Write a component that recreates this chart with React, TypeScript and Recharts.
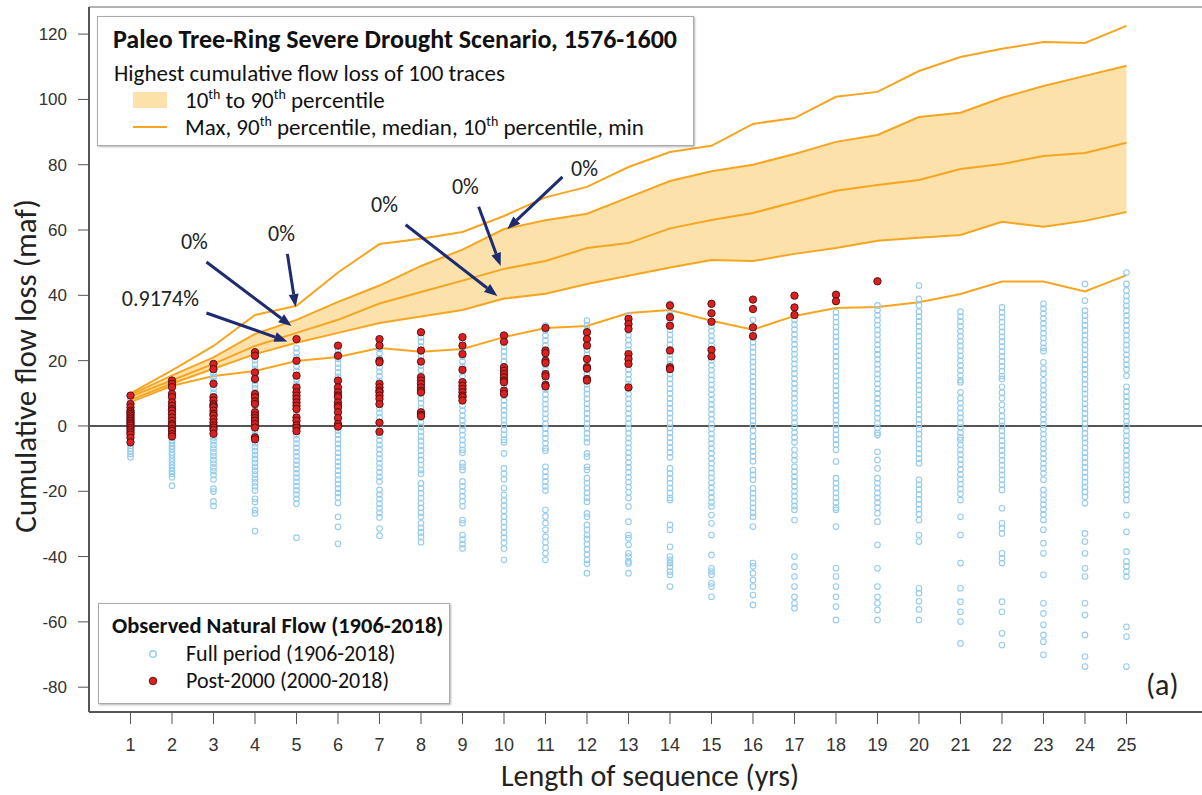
import React from "react";
import {
  ComposedChart,
  Area,
  Line,
  Scatter,
  XAxis,
  YAxis,
  ReferenceLine,
  ReferenceDot,
} from "recharts";

// sequence lengths (yrs)
const years = [1, 2, 3, 4, 5, 6, 7, 8, 9, 10, 11, 12, 13, 14, 15, 16, 17, 18, 19, 20, 21, 22, 23, 24, 25];
const yTicks = [-80, -60, -40, -20, 0, 20, 40, 60, 80, 100, 120];

// paleo scenario, highest cumulative flow loss of 100 traces (maf)
const maxLoss = [10, 17, 24.5, 34, 36.8, 47, 55.7, 57.3, 59.4, 64.3, 70, 73.2, 79.3, 83.9, 85.8, 92.5, 94.3, 100.8, 102.3, 108.7, 113, 115.5, 117.6, 117.3, 122.5];
const p90Loss = [9.5, 15.5, 21, 28.2, 32.5, 38, 43, 49, 54, 60.3, 63, 65, 70, 75, 78, 80, 83.3, 87, 89.1, 94.6, 95.9, 100.5, 104.1, 107.2, 110.3];
const medianLoss = [9, 14, 19, 24.5, 28.5, 32.5, 37.5, 41, 44.5, 48.1, 50.5, 54.5, 56, 60.5, 63.1, 65.2, 68.6, 72, 73.8, 75.3, 78.7, 80.2, 82.7, 83.6, 86.7];
const p10Loss = [8, 13, 17.5, 22, 25.5, 28.5, 31.5, 33.5, 35.5, 39, 40.5, 43.5, 46, 48.5, 50.8, 50.5, 52.7, 54.5, 56.7, 57.6, 58.5, 62.5, 61, 62.8, 65.5];
const minLoss = [7.3, 12.3, 15.3, 16.8, 19.9, 21.1, 23.9, 22.7, 23.6, 27.2, 30, 30.6, 34.6, 35.5, 32.2, 29.5, 33.7, 36.1, 36.4, 37.9, 40.4, 44.2, 44.2, 41.2, 46.2];

// observed natural flow 1906-2018, one list per sequence length
const fullPeriod = [
  [9.3, 8.1, 7.0, 6.2, 5.5, 4.9, 4.2, 3.6, 3.0, 2.3, 1.7, 1.0, 0.4, -0.3, -0.9, -1.6, -2.3, -3.0, -3.7, -4.5, -5.3, -6.1, -6.9, -7.7, -8.6, -9.6],
  [13.9, 12.8, 11.7, 10.8, 9.8, 8.9, 7.9, 7.0, 6.1, 5.1, 4.2, 3.3, 2.3, 1.4, 0.5, -0.5, -1.4, -2.4, -3.3, -4.3, -5.2, -6.2, -7.1, -8.1, -9.0, -10.0, -10.9, -11.9, -12.8, -13.8, -14.7, -15.7, -18.3],
  [19.0, 17.6, 16.2, 15.0, 13.8, 12.6, 11.4, 10.2, 9.0, 7.9, 6.8, 5.6, 4.5, 3.3, 2.2, 1.1, 0.0, -1.2, -2.3, -3.5, -4.6, -5.8, -6.9, -8.1, -9.2, -10.4, -11.5, -12.7, -13.8, -15.0, -16.4, -19.2, -20.1, -23.1, -24.5],
  [22.6, 21.4, 20.1, 18.8, 17.5, 16.3, 15.1, 13.9, 12.7, 11.5, 10.3, 9.1, 7.9, 6.7, 5.5, 4.3, 3.1, 1.9, 0.7, -0.5, -1.7, -2.9, -4.1, -5.3, -6.5, -7.7, -8.9, -10.1, -11.3, -12.5, -13.7, -14.9, -16.1, -17.3, -18.5, -19.8, -22.3, -23.3, -25.8, -26.8, -32.2],
  [26.6, 23.8, 22.5, 21.0, 19.6, 18.2, 16.9, 15.5, 14.2, 12.8, 11.5, 10.2, 8.9, 7.6, 6.3, 5.0, 3.7, 2.4, 1.1, -0.2, -1.5, -2.8, -4.1, -5.4, -6.7, -8.0, -9.3, -10.6, -11.9, -13.2, -14.5, -15.8, -17.1, -18.4, -19.7, -21.0, -22.3, -23.8, -34.2],
  [24.6, 23.3, 21.9, 20.5, 19.1, 17.8, 16.4, 15.0, 13.7, 12.3, 10.9, 9.6, 8.2, 6.8, 5.5, 4.1, 2.7, 1.4, 0.0, -1.4, -2.7, -4.1, -5.5, -6.8, -8.2, -9.6, -11.0, -12.3, -13.7, -15.1, -16.4, -17.8, -19.2, -20.5, -21.9, -23.6, -27.8, -30.9, -36.1],
  [26.6, 25.0, 23.6, 22.2, 20.8, 19.4, 18.0, 16.6, 15.2, 13.8, 12.4, 11.0, 9.6, 8.2, 6.8, 5.4, 4.0, 2.6, 1.2, -0.2, -1.6, -3.0, -4.4, -5.8, -7.2, -8.6, -10.0, -11.4, -12.8, -14.2, -15.6, -17.0, -19.6, -21.0, -22.4, -23.8, -25.2, -26.6, -28.0, -31.4, -33.6],
  [28.7, 27.2, 25.8, 24.3, 22.9, 21.4, 20.0, 18.5, 17.1, 15.6, 14.2, 12.8, 11.3, 9.9, 8.4, 7.0, 5.5, 4.1, 2.6, 1.2, -0.3, -1.7, -3.2, -4.6, -6.1, -7.5, -9.0, -10.4, -11.9, -13.5, -14.6, -17.6, -19.1, -20.6, -22.1, -23.6, -25.1, -26.6, -27.8, -29.8, -31.2, -32.6, -34.0, -35.6],
  [27.2, 25.7, 24.2, 22.7, 21.2, 19.7, 18.2, 16.7, 15.2, 13.7, 12.2, 10.7, 9.2, 7.7, 6.2, 4.7, 3.2, 1.7, 0.2, -1.3, -2.8, -4.3, -5.8, -7.3, -8.2, -11.4, -12.5, -13.5, -17.0, -18.5, -20.0, -21.5, -23.0, -24.6, -28.8, -29.8, -33.4, -34.8, -36.2, -37.5],
  [27.7, 25.8, 24.3, 22.8, 21.3, 19.8, 18.3, 16.8, 15.3, 13.8, 12.3, 10.8, 9.3, 7.8, 6.3, 4.8, 3.3, 1.8, 0.3, -1.2, -2.7, -4.2, -5.0, -8.4, -13.0, -14.6, -16.3, -19.0, -21.1, -22.8, -24.4, -26.0, -27.8, -29.4, -31.0, -32.6, -34.2, -35.8, -37.5, -41.0],
  [30.7, 29.2, 27.7, 26.2, 24.7, 23.2, 21.7, 20.2, 18.7, 17.2, 15.7, 14.2, 12.7, 11.2, 9.7, 8.2, 6.7, 5.2, 3.7, 2.2, 0.7, -0.8, -2.3, -3.8, -5.3, -6.8, -7.6, -12.5, -14.0, -15.5, -17.0, -18.5, -19.8, -25.7, -27.7, -29.7, -31.8, -33.9, -35.6, -37.3, -39.0, -41.0],
  [32.3, 30.8, 29.3, 27.8, 26.3, 24.8, 23.3, 21.8, 20.3, 18.8, 17.3, 15.8, 14.3, 12.8, 11.3, 9.8, 8.3, 6.8, 5.3, 3.8, 2.3, 0.8, -0.7, -2.2, -3.7, -5.0, -8.4, -9.4, -12.5, -13.5, -16.0, -17.5, -19.0, -20.5, -22.0, -23.2, -26.8, -27.8, -30.3, -31.8, -33.4, -34.6, -36.2, -37.8, -39.4, -41.0, -42.2, -45.1],
  [33.8, 32.3, 30.8, 29.3, 27.8, 26.3, 24.8, 23.3, 21.8, 20.3, 18.8, 17.3, 15.8, 14.3, 12.8, 11.3, 9.8, 8.3, 6.8, 5.3, 3.8, 2.3, 0.8, -0.7, -2.2, -3.7, -5.2, -6.7, -8.2, -9.7, -11.2, -12.7, -14.2, -15.7, -17.2, -18.7, -20.3, -22.1, -24.7, -29.3, -33.4, -34.4, -36.4, -39.0, -40.0, -41.5, -42.1, -45.1],
  [37.4, 36.9, 35.4, 33.9, 32.4, 30.9, 29.4, 27.9, 26.4, 24.9, 23.4, 21.9, 20.4, 18.9, 17.4, 15.9, 14.4, 12.9, 11.4, 9.9, 8.4, 6.9, 5.4, 3.9, 2.4, 0.9, -0.6, -2.1, -3.6, -5.1, -6.6, -8.1, -9.6, -13.0, -14.5, -16.0, -17.5, -19.0, -20.5, -22.0, -22.7, -30.3, -31.8, -37.0, -40.0, -41.0, -42.0, -43.1, -44.6, -45.6, -49.2],
  [37.4, 34.5, 31.9, 30.6, 29.1, 27.6, 26.1, 24.6, 23.1, 21.6, 20.1, 18.6, 17.1, 15.6, 14.1, 12.6, 11.1, 9.6, 8.1, 6.6, 5.1, 3.6, 2.1, 0.6, -0.9, -2.4, -3.9, -5.4, -6.9, -8.4, -9.9, -11.4, -12.9, -14.4, -15.9, -17.4, -18.9, -20.4, -21.9, -23.4, -24.7, -27.3, -29.8, -33.4, -39.5, -43.6, -44.6, -45.6, -48.2, -49.2, -52.3],
  [38.7, 35.8, 32.5, 30.2, 28.6, 27.1, 25.6, 24.1, 22.6, 21.1, 19.6, 18.1, 16.6, 15.1, 13.6, 12.1, 10.6, 9.1, 7.6, 6.1, 4.6, 3.1, 1.6, 0.1, -1.4, -3.2, -4.8, -6.3, -7.8, -9.3, -10.8, -13.5, -15.0, -16.5, -19.1, -20.6, -22.1, -23.6, -25.1, -26.6, -27.8, -30.8, -42.0, -43.0, -45.1, -47.2, -49.2, -51.8, -54.8],
  [39.9, 36.3, 34.0, 32.5, 31.0, 29.5, 28.0, 26.5, 25.0, 23.5, 22.0, 20.5, 19.0, 17.5, 16.0, 14.5, 13.0, 11.5, 10.0, 8.5, 7.0, 5.5, 4.0, 2.5, 1.0, -0.5, -2.0, -3.5, -5.0, -7.3, -9.0, -10.5, -12.5, -14.0, -15.5, -17.0, -18.5, -20.0, -21.5, -23.0, -24.5, -25.7, -28.8, -40.0, -43.1, -46.1, -49.2, -52.3, -54.3, -55.8],
  [40.2, 38.2, 34.8, 33.3, 31.8, 30.3, 28.8, 27.3, 25.8, 24.3, 22.8, 21.3, 19.8, 18.3, 16.8, 15.3, 13.8, 12.3, 10.8, 9.3, 7.8, 6.3, 4.8, 3.3, 1.8, 0.3, -1.2, -2.7, -4.2, -5.7, -7.3, -10.9, -16.0, -17.5, -19.0, -20.5, -22.0, -23.5, -25.0, -25.7, -30.8, -43.6, -46.1, -49.2, -52.3, -55.3, -59.4],
  [44.3, 36.9, 35.4, 33.9, 32.4, 30.9, 29.4, 27.9, 26.4, 24.9, 23.4, 21.9, 20.4, 18.9, 17.4, 15.9, 14.4, 12.9, 11.4, 9.9, 8.4, 6.9, 5.4, 3.9, 2.4, 0.9, -0.6, -2.1, -2.8, -7.9, -10.4, -13.0, -16.0, -17.5, -19.0, -20.5, -22.0, -23.5, -25.0, -26.7, -29.3, -36.4, -43.6, -49.2, -52.3, -54.3, -56.4, -59.4],
  [43.0, 38.9, 36.9, 35.0, 33.5, 32.0, 30.5, 29.0, 27.5, 26.0, 24.5, 23.0, 21.5, 20.0, 18.5, 17.0, 15.5, 14.0, 12.5, 11.0, 9.5, 8.0, 6.5, 5.0, 3.5, 2.0, 0.5, -1.0, -2.5, -4.0, -5.5, -7.0, -8.5, -10.0, -11.4, -16.5, -18.0, -19.5, -21.0, -22.5, -24.0, -25.5, -27.0, -28.8, -33.4, -35.4, -49.7, -51.2, -53.7, -56.2, -59.4],
  [35.0, 33.5, 32.0, 30.5, 29.0, 27.5, 26.0, 24.5, 23.0, 21.5, 20.0, 18.5, 17.0, 15.5, 14.0, 13.4, 10.3, 8.5, 7.0, 5.5, 4.0, 2.5, 1.0, -0.5, -2.0, -3.5, -4.3, -5.8, -7.3, -8.8, -10.3, -11.8, -13.3, -14.8, -16.3, -17.8, -19.3, -20.8, -22.7, -27.8, -33.4, -42.0, -49.7, -53.8, -56.9, -59.9, -66.6],
  [36.3, 34.8, 33.3, 31.8, 30.3, 28.8, 27.3, 25.8, 24.3, 22.8, 21.3, 19.8, 18.3, 16.8, 15.3, 14.4, 12.0, 10.2, 8.5, 6.5, 4.8, 3.0, 1.5, 0.0, -1.5, -3.0, -4.5, -6.0, -7.5, -9.0, -10.5, -12.0, -13.5, -15.0, -16.5, -18.0, -19.6, -25.2, -29.8, -31.3, -32.9, -39.0, -40.5, -42.0, -53.8, -56.9, -63.5, -67.1],
  [37.4, 35.9, 34.4, 32.9, 31.4, 29.9, 28.4, 26.9, 25.4, 23.9, 22.9, 19.5, 17.5, 16.0, 14.0, 12.5, 11.0, 9.5, 8.0, 6.5, 5.0, 3.5, 2.0, 0.5, -1.0, -2.5, -4.0, -5.5, -7.0, -8.5, -10.0, -11.5, -13.0, -14.5, -16.5, -19.6, -21.1, -22.6, -24.1, -25.6, -27.1, -28.8, -31.8, -35.9, -39.0, -45.6, -54.3, -57.4, -60.9, -64.0, -66.1, -70.1],
  [43.5, 38.4, 35.3, 33.8, 32.3, 30.8, 29.3, 27.8, 26.3, 24.8, 23.3, 21.8, 20.3, 18.8, 17.3, 15.8, 14.3, 12.8, 11.3, 9.8, 8.3, 6.8, 5.3, 3.8, 2.3, 0.8, -0.7, -2.2, -3.7, -5.2, -6.7, -8.2, -9.7, -11.2, -12.7, -14.2, -15.7, -17.2, -18.7, -20.2, -21.7, -23.7, -32.9, -35.4, -39.0, -43.6, -46.1, -54.3, -57.9, -64.0, -70.6, -73.7],
  [47.0, 43.5, 41.5, 39.8, 38.3, 36.8, 35.3, 33.8, 32.3, 30.8, 29.3, 27.8, 26.3, 24.8, 23.3, 21.8, 20.3, 18.8, 17.3, 15.4, 12.0, 10.5, 9.0, 7.5, 6.0, 4.5, 3.0, 1.5, 0.0, -1.5, -3.0, -4.5, -6.0, -7.5, -9.0, -10.5, -12.0, -13.5, -15.0, -16.5, -18.0, -19.5, -21.0, -22.7, -27.3, -32.4, -38.5, -41.5, -43.0, -44.6, -46.1, -61.5, -64.5, -73.7],
];

// post-2000 (2000-2018), one list per sequence length
const post2000 = [
  [9.3, 6.7, 5.7, 4.7, 4.2, 3.7, 3.2, 2.6, 2.1, 1.6, 1.1, 0.6, 0.1, -0.6, -1.2, -1.9, -2.6, -3.6, -5.0],
  [13.9, 12.9, 11.9, 9.8, 8.8, 7.2, 6.2, 5.2, 4.7, 3.7, 2.6, 1.6, 0.6, 0.1, -0.9, -1.5, -2.5, -3.2],
  [19.0, 17.4, 12.9, 8.8, 7.8, 6.7, 6.2, 5.7, 4.7, 3.7, 3.2, 2.1, 1.1, 0.2, -0.5, -1.2, -2.4],
  [22.6, 21.5, 16.4, 14.4, 9.8, 8.8, 7.5, 6.7, 4.2, 3.2, 2.4, 1.6, 0.6, -0.5, -3.5, -4.1],
  [26.6, 20.0, 15.4, 11.8, 10.3, 9.3, 8.3, 7.2, 6.2, 5.2, 2.6, 1.6, 0.2, -0.6, -1.6],
  [24.6, 21.5, 13.9, 11.8, 10.3, 9.3, 8.8, 7.2, 6.2, 5.7, 4.2, 2.4, 0.6, -0.2],
  [26.6, 24.6, 20.0, 19.5, 12.9, 11.8, 10.8, 10.3, 9.3, 8.3, 6.7, 1.0, -1.8],
  [28.7, 23.1, 19.7, 14.9, 13.9, 12.9, 11.8, 10.8, 10.3, 4.2, 3.4, 3.0],
  [27.2, 24.6, 22.0, 17.2, 13.4, 12.3, 11.3, 10.3, 9.3, 8.8, 7.8],
  [27.7, 25.8, 18.0, 16.9, 15.9, 14.9, 13.9, 13.4, 10.8, 9.8],
  [30.0, 23.1, 22.3, 20.0, 19.3, 15.9, 15.2, 12.6, 12.1],
  [28.7, 26.6, 24.6, 20.5, 18.0, 17.6, 14.4, 13.9],
  [32.8, 31.2, 29.7, 22.0, 20.5, 19.0, 11.8],
  [36.9, 33.3, 30.7, 23.1, 18.0, 17.4],
  [37.4, 34.5, 31.9, 23.3, 21.3],
  [38.7, 35.8, 30.2, 27.5],
  [39.9, 36.3, 34.0],
  [40.2, 38.2],
  [44.3],
];

// exceedance annotations: label, label spot, arrow tail, arrow head (data units)
const noteText = ["0.9174%", "0%", "0%", "0%", "0%", "0%"];
const notePos = [[1.72, 38.9], [2.54, 56.4], [4.64, 58.8], [7.12, 67.7], [9.07, 73.2], [11.94, 78.7]];
const noteFrom = [[2.83, 34.6], [2.83, 50.2], [4.78, 52.7], [7.63, 61.6], [9.39, 67.1], [11.41, 76.3]];
const noteTo = [[4.78, 25.9], [4.88, 30.6], [4.98, 36.4], [9.84, 39.8], [9.92, 49.0], [10.08, 60.3]];

const FONT = "Carlito, Lato, 'Open Sans', sans-serif";
const ORANGE = "#f6a521";
const NAVY = "#1f2b6f";

const pctData = years.map((x, i) => ({
  x,
  max: maxLoss[i],
  p90: p90Loss[i],
  median: medianLoss[i],
  p10: p10Loss[i],
  min: minLoss[i],
  band: [p10Loss[i], p90Loss[i]],
}));

const fullPts = fullPeriod.flatMap((col, i) => col.map((y) => ({ x: years[i], y })));
const postPts = post2000.flatMap((col, i) => col.map((y) => ({ x: years[i], y })));

const BlueRing = (p: any) => (
  <circle cx={p.cx} cy={p.cy} r={2.8} fill="none" stroke="#94cbee" strokeWidth={1.1} />
);
const RedDot = (p: any) => (
  <circle cx={p.cx} cy={p.cy} r={3.7} fill="#dc1f1f" stroke="#4a0e0e" strokeWidth={0.9} />
);

const Arrow = (p: any) => {
  const { x1, y1, x2, y2 } = p;
  const a = Math.atan2(y2 - y1, x2 - x1);
  const bx = x2 - 13 * Math.cos(a);
  const by = y2 - 13 * Math.sin(a);
  const ox = -Math.sin(a) * 5;
  const oy = Math.cos(a) * 5;
  return (
    <g>
      <line x1={x1} y1={y1} x2={bx} y2={by} stroke={NAVY} strokeWidth={3} />
      <polygon points={`${x2},${y2} ${bx + ox},${by + oy} ${bx - ox},${by - oy}`} fill={NAVY} />
    </g>
  );
};

const noteLabel = (text: string) => (p: any) => (
  <text x={p.cx} y={p.cy} textAnchor="middle" dominantBaseline="central" fontSize={22} fontFamily={FONT} fill="#222">
    {text}
  </text>
);

export default function App() {
  return (
    <div style={{ position: "absolute", left: 0, top: 0, width: 1202, height: 795, background: "#fff", fontFamily: FONT }}>
      <ComposedChart width={1202} height={795} data={pctData} margin={{ top: 7, right: 0, bottom: 0, left: 0 }}>
        <XAxis
          dataKey="x"
          type="number"
          domain={[0, 26.82]}
          ticks={years}
          interval={0}
          allowDataOverflow
          height={83}
          tickSize={12}
          tickMargin={14}
          axisLine={{ stroke: "#555", strokeWidth: 2 }}
          tickLine={{ stroke: "#555" }}
          tick={{ fontSize: 18, fill: "#333", fontFamily: "'Liberation Sans', Arial, sans-serif" }}
        />
        <YAxis
          type="number"
          domain={[-87.6, 128.3]}
          ticks={yTicks}
          interval={0}
          allowDataOverflow
          width={89}
          tickSize={11}
          tickMargin={11}
          axisLine={{ stroke: "#555", strokeWidth: 2 }}
          tickLine={{ stroke: "#555" }}
          tick={{ fontSize: 17, fill: "#333", fontFamily: "'Liberation Sans', Arial, sans-serif" }}
        />
        <ReferenceLine y={128.3} stroke="#999" strokeWidth={1.5} />
        <Area dataKey="band" type="linear" fill="#fde1ab" fillOpacity={1} stroke="none" isAnimationActive={false} />
        <Scatter data={fullPts} dataKey="y" shape={BlueRing} isAnimationActive={false} />
        <Line dataKey="max" type="linear" stroke={ORANGE} strokeWidth={2} dot={false} isAnimationActive={false} />
        <Line dataKey="p90" type="linear" stroke={ORANGE} strokeWidth={2} dot={false} isAnimationActive={false} />
        <Line dataKey="median" type="linear" stroke={ORANGE} strokeWidth={2} dot={false} isAnimationActive={false} />
        <Line dataKey="p10" type="linear" stroke={ORANGE} strokeWidth={2} dot={false} isAnimationActive={false} />
        <Line dataKey="min" type="linear" stroke={ORANGE} strokeWidth={2} dot={false} isAnimationActive={false} />
        <Scatter data={postPts} dataKey="y" shape={RedDot} isAnimationActive={false} />
        <ReferenceLine y={0} stroke="#555" strokeWidth={2} />
        {noteText.map((t, i) => (
          <ReferenceLine
            key={"arrow" + i}
            segment={[
              { x: noteFrom[i][0], y: noteFrom[i][1] },
              { x: noteTo[i][0], y: noteTo[i][1] },
            ]}
            shape={Arrow}
          />
        ))}
        {noteText.map((t, i) => (
          <ReferenceDot key={"note" + i} x={notePos[i][0]} y={notePos[i][1]} r={4} shape={noteLabel(t)} />
        ))}
      </ComposedChart>

      {/* axis titles */}
      <div
        style={{
          position: "absolute",
          left: 25,
          top: 366,
          transform: "translate(-50%, -50%) rotate(-90deg)",
          whiteSpace: "nowrap",
          fontSize: 31,
          lineHeight: "34px",
          color: "#222",
        }}
      >
        Cumulative flow loss (maf)
      </div>
      <div
        style={{
          position: "absolute",
          left: 650,
          top: 776,
          transform: "translate(-50%, -50%)",
          whiteSpace: "nowrap",
          fontSize: 30,
          lineHeight: "34px",
          color: "#222",
        }}
      >
        Length of sequence (yrs)
      </div>
      <div style={{ position: "absolute", left: 1146, top: 668, fontSize: 30, color: "#222", lineHeight: "34px" }}>(a)</div>

      {/* scenario legend */}
      <div
        style={{
          position: "absolute",
          left: 97,
          top: 16,
          width: 595,
          height: 128,
          border: "1px solid #aaa",
          boxShadow: "1px 1px 2px rgba(0,0,0,0.3)",
          background: "#fff",
          color: "#111",
        }}
      >
        <div style={{ position: "absolute", left: 15, top: 8, fontSize: 26, fontWeight: 700, lineHeight: "28px", whiteSpace: "nowrap" }}>
          Paleo Tree-Ring Severe Drought Scenario, 1576-1600
        </div>
        <div style={{ position: "absolute", left: 16, top: 43, fontSize: 23, lineHeight: "26px", whiteSpace: "nowrap" }}>
          Highest cumulative flow loss of 100 traces
        </div>
        <div style={{ position: "absolute", left: 35, top: 75, width: 34, height: 16, background: "#fde1ab" }} />
        <div style={{ position: "absolute", left: 87, top: 70, fontSize: 23, lineHeight: "26px", whiteSpace: "nowrap" }}>
          10<sup style={{ fontSize: 14, lineHeight: 0 }}>th</sup> to 90<sup style={{ fontSize: 14, lineHeight: 0 }}>th</sup> percentile
        </div>
        <div style={{ position: "absolute", left: 35, top: 109, width: 34, height: 2, background: ORANGE }} />
        <div style={{ position: "absolute", left: 87, top: 97, fontSize: 23, lineHeight: "26px", whiteSpace: "nowrap" }}>
          Max, 90<sup style={{ fontSize: 14, lineHeight: 0 }}>th</sup> percentile, median, 10<sup style={{ fontSize: 14, lineHeight: 0 }}>th</sup> percentile, min
        </div>
      </div>

      {/* observed legend */}
      <div
        style={{
          position: "absolute",
          left: 98,
          top: 603,
          width: 350,
          height: 99,
          border: "1px solid #aaa",
          boxShadow: "1px 1px 2px rgba(0,0,0,0.3)",
          background: "#fff",
          color: "#111",
        }}
      >
        <div style={{ position: "absolute", left: 13, top: 11, fontSize: 22.5, fontWeight: 700, lineHeight: "22px", whiteSpace: "nowrap" }}>
          Observed Natural Flow (1906-2018)
        </div>
        <svg style={{ position: "absolute", left: 0, top: 0 }} width={350} height={99}>
          <circle cx={54} cy={50} r={3.3} fill="none" stroke="#94cbee" strokeWidth={1.4} />
          <circle cx={54} cy={77} r={3.8} fill="#dc1f1f" stroke="#4a0e0e" strokeWidth={0.9} />
        </svg>
        <div style={{ position: "absolute", left: 87, top: 39, fontSize: 22, lineHeight: "22px", whiteSpace: "nowrap" }}>
          Full period (1906-2018)
        </div>
        <div style={{ position: "absolute", left: 87, top: 66, fontSize: 22, lineHeight: "22px", whiteSpace: "nowrap" }}>
          Post-2000 (2000-2018)
        </div>
      </div>
    </div>
  );
}
